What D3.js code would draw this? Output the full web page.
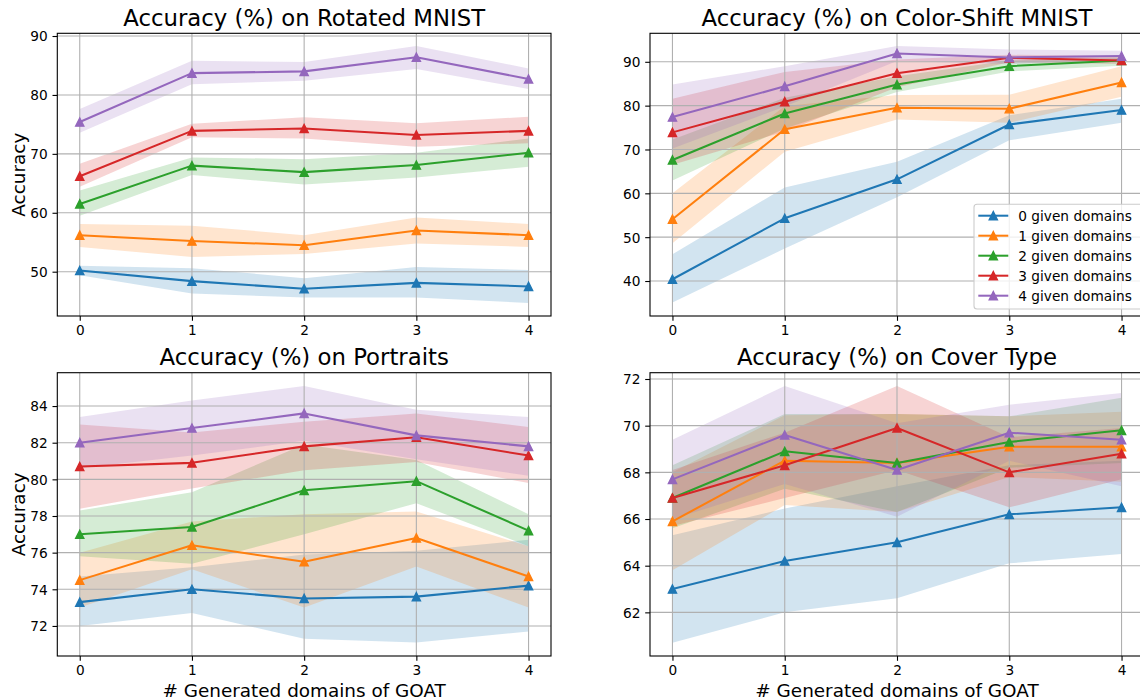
<!DOCTYPE html>
<html>
<head>
<meta charset="utf-8">
<script src="https://cdn.jsdelivr.net/npm/d3@7"></script>
<style>
  html, body { margin: 0; padding: 0; background: #fff; }
  svg { display: block; font-family: "DejaVu Sans", sans-serif; }
</style>
</head>
<body>
<svg id="chart" width="1140" height="700"></svg>
<script>
// ---------------- data ----------------
const xValues = [0, 1, 2, 3, 4];
const seriesNames = ["0 given domains", "1 given domains", "2 given domains", "3 given domains", "4 given domains"];
const seriesColors = ["#1f77b4", "#ff7f0e", "#2ca02c", "#d62728", "#9467bd"];

// Rotated MNIST
const rotatedMean = [
  [50.2, 48.4, 47.1, 48.1, 47.5],
  [56.2, 55.2, 54.5, 57.0, 56.2],
  [61.5, 68.0, 66.9, 68.1, 70.2],
  [66.2, 73.9, 74.3, 73.2, 73.9],
  [75.4, 83.7, 84.0, 86.4, 82.7]
];
const rotatedLow = [
  [49.4, 46.3, 45.6, 45.6, 44.7],
  [54.2, 52.5, 53.0, 54.8, 54.2],
  [59.5, 66.4, 64.8, 66.0, 67.8],
  [64.4, 72.8, 72.6, 71.2, 71.8],
  [73.6, 81.8, 82.4, 84.4, 81.0]
];
const rotatedHigh = [
  [51.0, 50.6, 48.9, 50.8, 50.3],
  [58.1, 57.8, 56.2, 59.2, 58.1],
  [63.8, 69.4, 69.1, 70.2, 72.6],
  [68.3, 75.1, 76.2, 75.2, 76.3],
  [77.6, 85.8, 85.6, 88.3, 84.5]
];

// Color-Shift MNIST
const colorMean = [
  [40.4, 54.3, 63.2, 75.7, 79.0],
  [54.1, 74.6, 79.5, 79.3, 85.3],
  [67.6, 78.2, 84.8, 89.0, 90.3],
  [73.9, 80.9, 87.4, 90.9, 90.3],
  [77.4, 84.4, 91.9, 91.0, 91.3]
];
const colorLow = [
  [35.1, 47.4, 59.1, 72.1, 76.1],
  [48.6, 69.5, 76.85, 76.1, 82.0],
  [62.9, 74.8, 83.1, 87.8, 89.1],
  [66.5, 74.1, 84.2, 89.9, 89.5],
  [70.2, 79.8, 90.2, 89.5, 90.5]
];
const colorHigh = [
  [46.1, 61.35, 67.2, 77.8, 81.6],
  [60.0, 79.9, 82.4, 82.5, 89.0],
  [72.3, 81.8, 86.7, 90.3, 91.0],
  [81.6, 87.7, 90.5, 91.6, 91.3],
  [84.8, 89.0, 93.6, 92.8, 92.5]
];

// Portraits
const portraitsMean = [
  [73.3, 74.0, 73.5, 73.6, 74.2],
  [74.5, 76.4, 75.5, 76.8, 74.7],
  [77.0, 77.4, 79.4, 79.9, 77.2],
  [80.7, 80.9, 81.8, 82.3, 81.3],
  [82.0, 82.8, 83.6, 82.4, 81.8]
];
const portraitsLow = [
  [72.0, 72.7, 71.3, 71.1, 71.7],
  [73.0, 75.1, 73.0, 75.25, 73.0],
  [75.8, 75.4, 77.0, 78.7, 76.35],
  [78.4, 79.5, 80.5, 80.95, 79.8],
  [80.6, 81.3, 82.1, 81.1, 80.2]
];
const portraitsHigh = [
  [74.7, 75.2, 75.9, 76.1, 76.7],
  [76.0, 77.7, 78.1, 78.25, 76.35],
  [78.3, 79.3, 81.9, 81.05, 78.1],
  [83.0, 82.55, 83.15, 83.6, 82.85],
  [83.4, 84.3, 85.1, 83.8, 83.4]
];

// Cover Type
const coverMean = [
  [63.0, 64.2, 65.0, 66.2, 66.5],
  [65.9, 68.5, 68.4, 69.1, 69.1],
  [66.9, 68.9, 68.4, 69.3, 69.8],
  [66.9, 68.3, 69.9, 68.0, 68.8],
  [67.7, 69.6, 68.1, 69.7, 69.4]
];
const coverLow = [
  [60.7, 62.0, 62.6, 64.1, 64.5],
  [63.8, 66.6, 66.3, 67.8, 67.6],
  [65.6, 67.3, 66.3, 68.2, 68.4],
  [65.7, 66.9, 68.1, 66.5, 67.7],
  [66.0, 67.5, 66.1, 68.5, 67.4]
];
const coverHigh = [
  [65.3, 66.45, 67.4, 68.3, 68.5],
  [68.0, 70.45, 70.5, 70.4, 70.6],
  [68.3, 70.5, 70.5, 70.4, 71.2],
  [68.1, 69.7, 71.7, 69.5, 69.9],
  [69.4, 71.7, 70.1, 70.9, 71.4]
];

const xTicks = [0, 1, 2, 3, 4];
const rotatedTicks = [50, 60, 70, 80, 90];
const colorTicks = [40, 50, 60, 70, 80, 90];
const portraitsTicks = [72, 74, 76, 78, 80, 82, 84];
const coverTicks = [62, 64, 66, 68, 70, 72];

const titles = ["Accuracy (%) on Rotated MNIST", "Accuracy (%) on Color-Shift MNIST",
                "Accuracy (%) on Portraits", "Accuracy (%) on Cover Type"];
const yLabelText = "Accuracy";
const xLabelText = "# Generated domains of GOAT";

// ---------------- layout ----------------
const panels = [
  { title: titles[0], mean: rotatedMean, low: rotatedLow, high: rotatedHigh, ticks: rotatedTicks,
    yDomain: [42.48, 90.46], box: { x0: 57.3, x1: 551, y0: 33.3, y1: 316 }, yLabel: true, xLabel: false, legend: false },
  { title: titles[1], mean: colorMean, low: colorLow, high: colorHigh, ticks: colorTicks,
    yDomain: [32.02, 96.5], box: { x0: 650, x1: 1144, y0: 33.3, y1: 316 }, yLabel: false, xLabel: false, legend: true },
  { title: titles[2], mean: portraitsMean, low: portraitsLow, high: portraitsHigh, ticks: portraitsTicks,
    yDomain: [70.36, 85.82], box: { x0: 57.3, x1: 551, y0: 372.7, y1: 656 }, yLabel: true, xLabel: true, legend: false },
  { title: titles[3], mean: coverMean, low: coverLow, high: coverHigh, ticks: coverTicks,
    yDomain: [60.13, 72.27], box: { x0: 650, x1: 1144, y0: 372.7, y1: 656 }, yLabel: false, xLabel: true, legend: false }
];

const svg = d3.select("#chart");
const tickFont = 13.7, titleFont = 22.8, labelFont = 18.4;
const lineW = 2.05, gridW = 1.1, spineW = 1.1, tickLen = 4.8, markerSize = 8.2;

const triangle = (s) => {
  const h = s / 2;
  return `M0,${-h}L${-h},${h}L${h},${h}Z`;
};

panels.forEach((p) => {
  const b = p.box;
  const x = d3.scaleLinear().domain([-0.2, 4.2]).range([b.x0, b.x1]);
  const y = d3.scaleLinear().domain(p.yDomain).range([b.y1, b.y0]);
  const g = svg.append("g");

  const clipId = "clip" + Math.round(b.x0) + "_" + Math.round(b.y0);
  svg.append("clipPath").attr("id", clipId)
    .append("rect").attr("x", b.x0).attr("y", b.y0).attr("width", b.x1 - b.x0).attr("height", b.y1 - b.y0);

  const plot = g.append("g").attr("clip-path", `url(#${clipId})`);

  // fills
  const area = d3.area().x((d, i) => x(xValues[i])).y0(d => y(d[0])).y1(d => y(d[1]));
  p.mean.forEach((m, s) => {
    const pts = xValues.map((_, i) => [p.low[s][i], p.high[s][i]]);
    plot.append("path").attr("d", area(pts))
      .attr("fill", seriesColors[s]).attr("fill-opacity", 0.2).attr("stroke", "none");
  });

  // grid
  plot.append("g").selectAll("line").data(xTicks).join("line")
    .attr("x1", d => x(d)).attr("x2", d => x(d)).attr("y1", b.y0).attr("y2", b.y1)
    .attr("stroke", "#b0b0b0").attr("stroke-width", gridW);
  plot.append("g").selectAll("line").data(p.ticks).join("line")
    .attr("x1", b.x0).attr("x2", b.x1).attr("y1", d => y(d)).attr("y2", d => y(d))
    .attr("stroke", "#b0b0b0").attr("stroke-width", gridW);

  // lines + markers
  const line = d3.line().x((d, i) => x(xValues[i])).y(d => y(d));
  p.mean.forEach((m, s) => {
    plot.append("path").attr("d", line(m)).attr("fill", "none")
      .attr("stroke", seriesColors[s]).attr("stroke-width", lineW).attr("stroke-linejoin", "round");
    plot.append("g").selectAll("path").data(m).join("path")
      .attr("transform", (d, i) => `translate(${x(xValues[i])},${y(d)})`)
      .attr("d", triangle(markerSize))
      .attr("fill", seriesColors[s]).attr("stroke", seriesColors[s]).attr("stroke-width", 1.37)
      .attr("stroke-linejoin", "miter");
  });

  // axes
  const xAxis = d3.axisBottom(x).tickValues(xTicks).tickSize(tickLen).tickPadding(4.8).tickFormat(d3.format("d"));
  const yAxis = d3.axisLeft(y).tickValues(p.ticks).tickSize(tickLen).tickPadding(4.8).tickFormat(d3.format("d"));
  const gx = g.append("g").attr("transform", `translate(0,${b.y1})`).call(xAxis);
  const gy = g.append("g").attr("transform", `translate(${b.x0},0)`).call(yAxis);
  [gx, gy].forEach(ax => {
    ax.select(".domain").remove();
    ax.selectAll(".tick line").attr("stroke", "#000").attr("stroke-width", spineW);
    ax.selectAll(".tick text").attr("fill", "#000").style("font-size", tickFont + "px")
      .style("font-family", "DejaVu Sans, sans-serif");
  });
  gx.selectAll(".tick text").attr("dy", null).attr("y", 18.7).attr("dominant-baseline", "auto");
  gy.selectAll(".tick text").attr("dy", "0.36em");

  // spines
  g.append("rect").attr("x", b.x0).attr("y", b.y0).attr("width", b.x1 - b.x0).attr("height", b.y1 - b.y0)
    .attr("fill", "none").attr("stroke", "#000").attr("stroke-width", spineW);

  // title
  g.append("text").attr("x", (b.x0 + b.x1) / 2).attr("y", b.y0 - 7.3)
    .attr("text-anchor", "middle").style("font-size", titleFont + "px").attr("fill", "#000").text(p.title);

  if (p.yLabel) {
    const cy = (b.y0 + b.y1) / 2;
    g.append("text").attr("transform", `translate(24.5,${cy}) rotate(-90)`)
      .attr("text-anchor", "middle").style("font-size", labelFont + "px").attr("fill", "#000").text(yLabelText);
  }
  if (p.xLabel) {
    g.append("text").attr("x", (b.x0 + b.x1) / 2).attr("y", b.y1 + 40.7)
      .attr("text-anchor", "middle").style("font-size", labelFont + "px").attr("fill", "#000").text(xLabelText);
  }

  if (p.legend) {
    const lg = g.append("g");
    lg.append("rect").attr("x", 974).attr("y", 204.3).attr("width", 180).attr("height", 104.7)
      .attr("rx", 3).attr("ry", 3).attr("fill", "#fff").attr("fill-opacity", 0.8)
      .attr("stroke", "#cccccc").attr("stroke-width", 1.1);
    seriesNames.forEach((name, s) => {
      const cy = 215.7 + s * 20;
      lg.append("line").attr("x1", 978.3).attr("x2", 1008.3).attr("y1", cy).attr("y2", cy)
        .attr("stroke", seriesColors[s]).attr("stroke-width", lineW);
      lg.append("path").attr("transform", `translate(993.3,${cy})`).attr("d", triangle(markerSize))
        .attr("fill", seriesColors[s]).attr("stroke", seriesColors[s]).attr("stroke-width", 1.37);
      lg.append("text").attr("x", 1018.3).attr("y", cy).attr("dy", "0.36em")
        .style("font-size", tickFont + "px").attr("fill", "#000").text(name);
    });
  }
});
</script>
</body>
</html>
